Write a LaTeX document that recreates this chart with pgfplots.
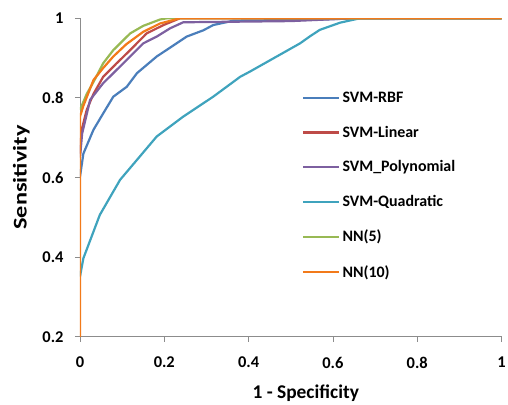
\documentclass[border=0pt]{standalone}
\usepackage{fontspec}
\setmainfont{Carlito}
\usepackage{pgfplots}
\pgfplotsset{compat=1.18}
\definecolor{RbfBlue}{HTML}{4A7EBB}
\definecolor{LinRed}{HTML}{BE4B48}
\definecolor{PolyPurple}{HTML}{7D60A0}
\definecolor{QuadTeal}{HTML}{3FA3BD}
\definecolor{NnGreen}{HTML}{98B954}
\definecolor{NnOrange}{HTML}{F27A1A}
\definecolor{AxisGray}{HTML}{8C8C8C}

\begin{document}
\begin{tikzpicture}
\begin{axis}[
  scale only axis,
  width=421.5bp, height=318.4bp,
  xmin=0, xmax=1, ymin=0.2, ymax=1,
  xtick={0,0.2,...,1}, ytick={0.2,0.4,...,1},
  xticklabels={0,0.2,0.4,0.6,0.8,1},
  yticklabels={0.2,0.4,0.6,0.8,1},
  axis x line=bottom, axis y line=left,
  axis line style={draw=AxisGray,line width=0.8bp,-},
  tick style={draw=AxisGray,line width=0.8bp},
  tick align=outside, major tick length=5bp,
  ticklabel style={font=\fontsize{16.5}{18}\selectfont\bfseries},
  xticklabel style={yshift=-12bp},
  yticklabel style={xshift=-8bp},
  /pgf/number format/assume math mode=true,
  xlabel={1 - Specificity},
  ylabel={\scalebox{1.25}[1]{Sensitivity}},
  label style={font=\fontsize{19.5}{22}\selectfont\bfseries},
  xlabel style={yshift=-9bp,xshift=15bp},
  ylabel style={yshift=6bp},
  legend style={draw=none,fill=none,at={(0.527,0.775)},anchor=north west,
    font=\fontsize{16}{18}\selectfont\bfseries,row sep=18bp,inner sep=0pt},
  legend cell align=left,
  legend image code/.code={\draw[#1] (0bp,0bp) -- (36bp,0bp);},
  every axis plot/.append style={line width=2.2bp,line join=round},
]
\addplot[color=RbfBlue] coordinates {
  (0,0.602) (0.008,0.66) (0.032,0.72) (0.055,0.761) (0.079,0.803) (0.111,0.828)
  (0.135,0.862) (0.182,0.904) (0.229,0.937) (0.253,0.954) (0.293,0.97)
  (0.316,0.983) (0.364,0.994) (0.45,0.995) (0.6,0.998) (0.65,1) (1,1)};
\addlegendentry{SVM-RBF}
\addplot[color=LinRed] coordinates {
  (0,0.66) (0.004,0.72) (0.016,0.77) (0.032,0.81) (0.055,0.853) (0.087,0.887)
  (0.119,0.92) (0.158,0.962) (0.198,0.983) (0.237,1.0) (1,1)};
\addlegendentry{SVM-Linear}
\addplot[color=PolyPurple] coordinates {
  (0,0.65) (0.005,0.71) (0.024,0.795) (0.055,0.837) (0.079,0.862) (0.119,0.904)
  (0.15,0.937) (0.182,0.954) (0.214,0.975) (0.245,0.99) (0.5,0.993) (0.65,1.0) (1,1)};
\addlegendentry{SVM\_Polynomial}
\addplot[color=QuadTeal] coordinates {
  (0,0.351) (0.008,0.397) (0.047,0.506) (0.095,0.594) (0.182,0.703) (0.245,0.753)
  (0.316,0.803) (0.38,0.853) (0.403,0.866) (0.522,0.937) (0.546,0.955)
  (0.569,0.971) (0.617,0.989) (0.664,1.0) (1,1)};
\addlegendentry{SVM-Quadratic}
\addplot[color=NnGreen] coordinates {
  (0,0.77) (0.016,0.81) (0.032,0.84) (0.055,0.887) (0.079,0.92) (0.119,0.962)
  (0.15,0.981) (0.19,0.997) (0.206,1.0) (1,1)};
\addlegendentry{NN(5)}
\addplot[color=NnOrange] coordinates {
  (0,0) (0,0.753) (0.008,0.78) (0.032,0.845) (0.055,0.875) (0.079,0.904)
  (0.11,0.935) (0.15,0.966) (0.19,0.987) (0.237,1.0) (1,1)};
\addlegendentry{NN(10)}
\end{axis}
\pgfresetboundingbox
\path (current axis.south west) ++(-80bp,-68.3bp) rectangle ++(508bp,405bp);
\end{tikzpicture}
\end{document}
